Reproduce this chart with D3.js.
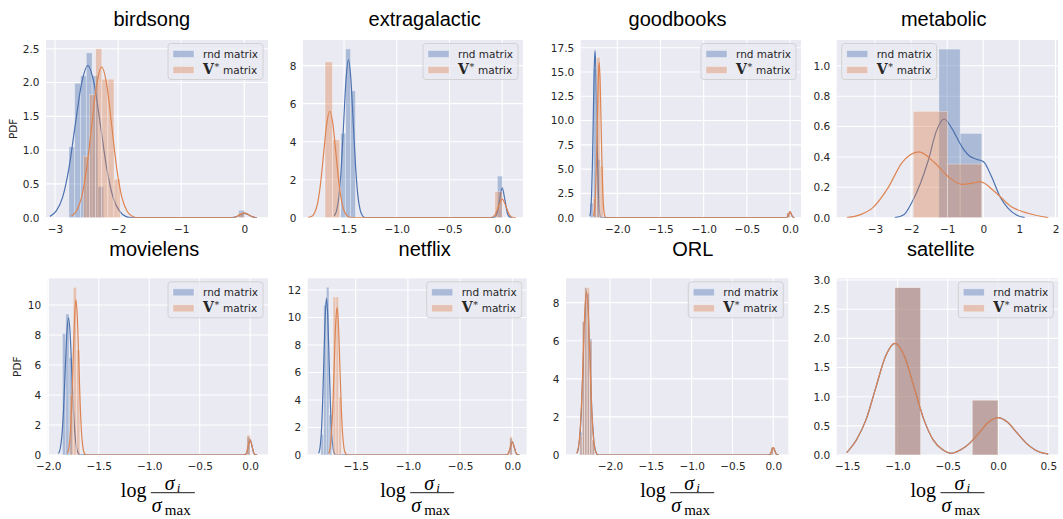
<!DOCTYPE html>
<html>
<head>
<meta charset="utf-8">
<script src="https://cdn.jsdelivr.net/npm/d3@7"></script>
<style>
  body { margin: 0; background: #fff; }
  svg text { font-family: "DejaVu Sans", sans-serif; }
</style>
</head>
<body>
<svg id="chart" width="1063" height="519"></svg>
<script>
// ---- data ----
const datasets = ['birdsong', 'extragalactic', 'goodbooks', 'metabolic', 'movielens', 'netflix', 'ORL', 'satellite'];
const seriesLabels = ['rnd matrix', 'V* matrix'];

const xLimits = [[-3.143, 0.376], [-1.889, 0.197], [-2.424, 0.127], [-4.06, 2.07],
                 [-2.006, 0.177], [-1.96, 0.138], [-2.539, 0.184], [-1.605, 0.6]];
const yLimits = [[0, 2.63], [0, 9.35], [0, 18.29], [0, 1.17], [0, 11.78], [0, 12.85], [0, 9.28], [0, 3.03]];

const xTicks = [[-3, -2, -1, 0], [-1.5, -1, -0.5, 0], [-2, -1.5, -1, -0.5, 0], [-3, -2, -1, 0, 1, 2],
                [-2, -1.5, -1, -0.5, 0], [-1.5, -1, -0.5, 0], [-2, -1.5, -1, -0.5, 0], [-1.5, -1, -0.5, 0, 0.5]];
const yTicks = [[0, 0.5, 1, 1.5, 2, 2.5], [0, 2, 4, 6, 8], [0, 2.5, 5, 7.5, 10, 12.5, 15, 17.5], [0, 0.2, 0.4, 0.6, 0.8, 1.0],
                [0, 2, 4, 6, 8, 10], [0, 2, 4, 6, 8, 10, 12], [0, 2, 4, 6, 8], [0, 0.5, 1, 1.5, 2, 2.5, 3]];
const xFormats = ['d', '.1f', '.1f', 'd', '.1f', '.1f', '.1f', '.1f'];
const yFormats = ['.1f', 'd', '.1f', '.1f', 'd', 'd', 'd', '.1f'];

// histogram bins [x0, x1, density]
const rndHist = [
  [[-2.78, -2.688, 1.05], [-2.688, -2.596, 1.99], [-2.596, -2.504, 2.10], [-2.504, -2.412, 2.44], [-2.412, -2.32, 2.10], [-2.32, -2.228, 0.46], [-0.09, 0.0, 0.11]],
  [[-1.53, -1.484, 4.44], [-1.484, -1.438, 8.88], [-1.438, -1.392, 6.68], [-0.046, 0.0, 2.19]],
  [[-2.317, -2.277, 1.5], [-2.277, -2.237, 15.3], [-2.237, -2.197, 6.0], [-0.04, 0.0, 0.5]],
  [[-1.23, -0.64, 1.11], [-0.64, -0.04, 0.555]],
  [[-1.86, -1.827, 8.1], [-1.827, -1.794, 9.4], [-1.794, -1.761, 6.5], [-0.033, 0.0, 1.2]],
  [[-1.833, -1.807, 1.5], [-1.807, -1.782, 10.9], [-1.782, -1.756, 12.2], [-1.756, -1.73, 2.9], [-0.026, 0.0, 1.2]],
  [[-2.37, -2.34, 1.2], [-2.34, -2.31, 7.0], [-2.31, -2.28, 8.8], [-2.28, -2.25, 8.5], [-2.25, -2.22, 6.1], [-2.22, -2.19, 0.8], [-0.03, 0.0, 0.4]],
  [[-1.026, -0.77, 2.87], [-0.256, 0.0, 0.94]]
];
const vHist = [
  [[-2.55, -2.453, 0.91], [-2.453, -2.356, 1.82], [-2.356, -2.259, 2.50], [-2.259, -2.162, 2.05], [-2.162, -2.065, 2.05], [-2.065, -1.968, 0.57], [-0.097, 0.0, 0.07]],
  [[-1.68, -1.61, 8.2], [-1.61, -1.54, 4.1], [-0.07, 0.0, 1.37]],
  [[-2.28, -2.24, 2.0], [-2.24, -2.20, 16.5], [-2.20, -2.16, 5.3], [-0.04, 0.0, 0.5]],
  [[-1.94, -0.99, 0.70], [-0.99, -0.04, 0.353]],
  [[-1.786, -1.753, 4.0], [-1.753, -1.72, 11.18], [-1.72, -1.687, 7.0], [-0.033, 0.0, 1.33]],
  [[-1.717, -1.69, 11.5], [-1.69, -1.663, 11.5], [-1.663, -1.636, 4.2], [-0.027, 0.0, 1.33]],
  [[-2.37, -2.34, 1.0], [-2.34, -2.31, 7.0], [-2.31, -2.28, 8.8], [-2.28, -2.25, 8.8], [-2.25, -2.22, 6.0], [-2.22, -2.19, 0.8], [-0.03, 0.0, 0.4]],
  [[-1.026, -0.77, 2.87], [-0.256, 0.0, 0.94]]
];

// kde curves [x, density]
const rndKde = [
  [[-3.08, 0.02], [-2.98, 0.1], [-2.88, 0.30], [-2.78, 0.73], [-2.68, 1.37], [-2.58, 1.98], [-2.48, 2.25], [-2.38, 1.98], [-2.28, 1.37], [-2.18, 0.73], [-2.08, 0.30], [-1.98, 0.1], [-1.88, 0.02], [-1.78, 0], [-0.2, 0], [-0.13, 0.012], [-0.065, 0.043], [0, 0.065], [0.065, 0.043], [0.13, 0.012], [0.2, 0]],
  [[-1.593, 0.09], [-1.5705, 0.37], [-1.548, 1.12], [-1.5255, 2.70], [-1.503, 5.04], [-1.4805, 7.32], [-1.458, 8.3], [-1.4355, 7.32], [-1.413, 5.04], [-1.3905, 2.70], [-1.368, 1.12], [-1.3455, 0.37], [-1.323, 0.09], [-1.30, 0], [-0.09, 0], [-0.075, 0.017], [-0.05, 0.21], [-0.025, 0.95], [0, 1.57], [0.025, 0.95], [0.05, 0.21], [0.075, 0.017], [0.09, 0]],
  [[-2.318, 0.19], [-2.308, 0.76], [-2.298, 2.32], [-2.288, 5.59], [-2.278, 10.44], [-2.268, 15.17], [-2.258, 17.2], [-2.248, 15.17], [-2.238, 10.44], [-2.228, 5.59], [-2.218, 2.32], [-2.208, 0.76], [-2.198, 0.19], [-2.188, 0], [-0.05, 0], [-0.03, 0.08], [-0.015, 0.36], [0, 0.6], [0.015, 0.36], [0.03, 0.08], [0.05, 0]],
  [[-2.45, 0], [-2.2, 0.02], [-1.98, 0.1], [-1.75, 0.22], [-1.52, 0.38], [-1.3, 0.57], [-1.08, 0.65], [-0.85, 0.58], [-0.6, 0.47], [-0.4, 0.41], [-0.19, 0.385], [0.0, 0.37], [0.23, 0.27], [0.46, 0.14], [0.69, 0.062], [0.92, 0.018], [1.15, 0]],
  [[-1.899, 0.1], [-1.8825, 0.4], [-1.866, 1.24], [-1.8495, 2.97], [-1.833, 5.55], [-1.8165, 8.07], [-1.80, 9.15], [-1.7835, 8.07], [-1.767, 5.55], [-1.7505, 2.97], [-1.734, 1.24], [-1.7175, 0.4], [-1.701, 0.1], [-1.68, 0], [-0.07, 0], [-0.055, 0.01], [-0.036, 0.13], [-0.018, 0.6], [0, 1.0], [0.018, 0.6], [0.036, 0.13], [0.055, 0.01], [0.07, 0]],
  [[-1.855, 0.13], [-1.8425, 0.5], [-1.83, 1.54], [-1.8175, 3.7], [-1.805, 6.92], [-1.7925, 10.05], [-1.78, 11.4], [-1.7675, 10.05], [-1.755, 6.92], [-1.7425, 3.7], [-1.73, 1.54], [-1.7175, 0.5], [-1.705, 0.13], [-1.685, 0], [-0.07, 0], [-0.055, 0.01], [-0.036, 0.13], [-0.018, 0.58], [0, 0.95], [0.018, 0.58], [0.036, 0.13], [0.055, 0.01], [0.07, 0]],
  [[-2.406, 0.09], [-2.386, 0.37], [-2.366, 1.15], [-2.346, 2.76], [-2.326, 5.16], [-2.306, 7.5], [-2.286, 8.5], [-2.266, 7.5], [-2.246, 5.16], [-2.226, 2.76], [-2.206, 1.15], [-2.186, 0.37], [-2.166, 0.09], [-2.146, 0], [-0.07, 0], [-0.054, 0.004], [-0.036, 0.05], [-0.018, 0.23], [0, 0.38], [0.018, 0.23], [0.036, 0.05], [0.054, 0.004], [0.07, 0]],
  [[-1.506, 0.04], [-1.405, 0.27], [-1.31, 0.62], [-1.215, 1.16], [-1.12, 1.69], [-1.025, 1.915], [-0.93, 1.69], [-0.835, 1.16], [-0.74, 0.62], [-0.645, 0.26], [-0.55, 0.09], [-0.46, 0.03], [-0.37, 0.09], [-0.2775, 0.208], [-0.185, 0.388], [-0.0925, 0.565], [0, 0.64], [0.0925, 0.565], [0.185, 0.388], [0.2775, 0.208], [0.37, 0.087], [0.4625, 0.028], [0.5, 0.017]]
];
const vKde = [
  [[-2.74, 0.025], [-2.66, 0.1], [-2.58, 0.3], [-2.50, 0.72], [-2.42, 1.35], [-2.34, 1.97], [-2.26, 2.23], [-2.18, 1.97], [-2.10, 1.35], [-2.02, 0.72], [-1.94, 0.3], [-1.86, 0.1], [-1.78, 0.025], [-1.70, 0], [-0.2, 0], [-0.13, 0.013], [-0.065, 0.047], [0, 0.07], [0.065, 0.047], [0.13, 0.013], [0.2, 0]],
  [[-1.84, 0.02], [-1.809, 0.06], [-1.78, 0.25], [-1.751, 0.76], [-1.722, 1.82], [-1.693, 3.40], [-1.664, 4.94], [-1.635, 5.6], [-1.606, 4.94], [-1.577, 3.40], [-1.548, 1.82], [-1.519, 0.76], [-1.49, 0.25], [-1.461, 0.06], [-1.43, 0], [-0.13, 0], [-0.105, 0.01], [-0.07, 0.13], [-0.035, 0.6], [0, 0.98], [0.035, 0.6], [0.07, 0.13], [0.105, 0.01], [0.13, 0]],
  [[-2.276, 0.18], [-2.265, 0.7], [-2.254, 2.16], [-2.243, 5.2], [-2.232, 9.71], [-2.221, 14.11], [-2.21, 16.0], [-2.199, 14.11], [-2.188, 9.71], [-2.177, 5.2], [-2.166, 2.16], [-2.155, 0.7], [-2.144, 0.18], [-2.13, 0], [-0.05, 0], [-0.03, 0.08], [-0.015, 0.36], [0, 0.62], [0.015, 0.36], [0.03, 0.08], [0.05, 0]],
  [[-3.78, 0], [-3.4, 0.02], [-3.09, 0.06], [-2.63, 0.2], [-2.26, 0.36], [-1.78, 0.434], [-1.34, 0.36], [-0.97, 0.27], [-0.6, 0.22], [-0.3, 0.228], [-0.09, 0.237], [0.32, 0.171], [0.78, 0.072], [1.24, 0.029], [1.8, 0]],
  [[-1.81, 0.11], [-1.796, 0.46], [-1.782, 1.4], [-1.768, 3.36], [-1.754, 6.28], [-1.74, 9.13], [-1.726, 10.35], [-1.712, 9.13], [-1.698, 6.28], [-1.684, 3.36], [-1.67, 1.4], [-1.656, 0.46], [-1.642, 0.11], [-1.62, 0], [-0.07, 0], [-0.055, 0.01], [-0.036, 0.14], [-0.018, 0.62], [0, 1.02], [0.018, 0.62], [0.036, 0.14], [0.055, 0.01], [0.07, 0]],
  [[-1.76, 0.12], [-1.7465, 0.47], [-1.733, 1.45], [-1.7195, 3.49], [-1.706, 6.52], [-1.6925, 9.47], [-1.679, 10.74], [-1.6655, 9.47], [-1.652, 6.52], [-1.6385, 3.49], [-1.625, 1.45], [-1.6115, 0.47], [-1.598, 0.12], [-1.578, 0], [-0.07, 0], [-0.055, 0.01], [-0.036, 0.14], [-0.018, 0.6], [0, 0.98], [0.018, 0.6], [0.036, 0.14], [0.055, 0.01], [0.07, 0]],
  [[-2.408, 0.09], [-2.388, 0.38], [-2.368, 1.16], [-2.348, 2.79], [-2.328, 5.22], [-2.308, 7.59], [-2.288, 8.6], [-2.268, 7.59], [-2.248, 5.22], [-2.228, 2.79], [-2.208, 1.16], [-2.188, 0.38], [-2.168, 0.09], [-2.148, 0], [-0.07, 0], [-0.054, 0.004], [-0.036, 0.05], [-0.018, 0.24], [0, 0.4], [0.018, 0.24], [0.036, 0.05], [0.054, 0.004], [0.07, 0]],
  [[-1.506, 0.04], [-1.405, 0.27], [-1.31, 0.62], [-1.215, 1.16], [-1.12, 1.69], [-1.025, 1.915], [-0.93, 1.69], [-0.835, 1.16], [-0.74, 0.62], [-0.645, 0.26], [-0.55, 0.09], [-0.46, 0.03], [-0.37, 0.09], [-0.2775, 0.208], [-0.185, 0.388], [-0.0925, 0.565], [0, 0.64], [0.0925, 0.565], [0.185, 0.388], [0.2775, 0.208], [0.37, 0.087], [0.4625, 0.028], [0.5, 0.017]]
];

// ---- layout ----
// plot boxes [left, top, right, bottom]
const plotBoxes = [
  [46, 40, 268, 217.7], [303, 40, 523, 217.7], [580.7, 40, 801, 217.7], [836.7, 40, 1058, 217.7],
  [47.7, 278.3, 268, 455], [307.7, 278.3, 526.7, 455], [566, 278.3, 788.3, 455], [836.7, 278.3, 1058.3, 455]
];
const titleX = [151.8, 424.7, 677.5, 943.7, 154.3, 424.7, 692.7, 940.8];
const legendLeft = [false, false, false, true, false, false, false, false];

const colors = ['#4c72b0', '#dd8452'];
const bgColor = '#eaeaf2';
const textColor = '#262626';

const svg = d3.select('#chart');
svg.append('rect').attr('width', 1063).attr('height', 519).attr('fill', '#fff');

datasets.forEach((name, i) => drawPanel(i));

function drawPanel(i) {
  const [l, t, r, b] = plotBoxes[i];
  const x = d3.scaleLinear().domain(xLimits[i]).range([l, r]);
  const y = d3.scaleLinear().domain(yLimits[i]).range([b, t]);
  const g = svg.append('g').attr('class', 'panel');

  g.append('rect').attr('x', l).attr('y', t).attr('width', r - l).attr('height', b - t).attr('fill', bgColor);

  const clipId = 'clip' + i;
  g.append('clipPath').attr('id', clipId)
    .append('rect').attr('x', l).attr('y', t).attr('width', r - l).attr('height', b - t);

  // grid
  g.append('g').selectAll('line').data(xTicks[i]).join('line')
    .attr('x1', d => x(d)).attr('x2', d => x(d)).attr('y1', t).attr('y2', b)
    .attr('stroke', '#fff').attr('stroke-width', 1.1);
  g.append('g').selectAll('line').data(yTicks[i]).join('line')
    .attr('x1', l).attr('x2', r).attr('y1', d => y(d)).attr('y2', d => y(d))
    .attr('stroke', '#fff').attr('stroke-width', 1.1);

  const plot = g.append('g').attr('clip-path', `url(#${clipId})`);
  const line = d3.line().x(d => x(d[0])).y(d => y(d[1])).curve(d3.curveMonotoneX);

  [[rndHist[i], rndKde[i]], [vHist[i], vKde[i]]].forEach(([hist, kde], s) => {
    plot.append('g').selectAll('rect').data(hist).join('rect')
      .attr('x', d => x(d[0]))
      .attr('y', d => y(d[2]))
      .attr('width', d => Math.max(0.5, x(d[1]) - x(d[0])))
      .attr('height', d => b - y(d[2]))
      .attr('fill', colors[s]).attr('fill-opacity', 0.4)
      .attr('stroke', '#fff').attr('stroke-opacity', 0.4).attr('stroke-width', 0.8);
    plot.append('path').datum(kde)
      .attr('d', line)
      .attr('fill', 'none').attr('stroke', colors[s]).attr('stroke-width', 1.2);
  });

  // axes
  const xAxis = g.append('g').attr('transform', `translate(0,${b})`)
    .call(d3.axisBottom(x).tickValues(xTicks[i]).tickFormat(d3.format(xFormats[i])).tickSize(0).tickPadding(7.5));
  const yAxis = g.append('g').attr('transform', `translate(${l},0)`)
    .call(d3.axisLeft(y).tickValues(yTicks[i]).tickFormat(d3.format(yFormats[i])).tickSize(0).tickPadding(6.5));
  [xAxis, yAxis].forEach(ax => {
    ax.select('.domain').remove();
    ax.selectAll('text').attr('font-size', '10.5px').attr('fill', textColor)
      .style('font-family', '"DejaVu Sans", sans-serif');
  });

  // title
  g.append('text')
    .attr('x', titleX[i]).attr('y', i < 4 ? 26 : 255.5)
    .attr('text-anchor', 'middle')
    .style('font-family', '"Liberation Sans", Arial, sans-serif')
    .attr('font-size', '20px').attr('fill', '#000')
    .text(datasets[i]);

  // y label on the first column
  if (i % 4 === 0) {
    const cy = (t + b) / 2;
    const lx = i === 0 ? 13 : 17;
    g.append('text')
      .attr('transform', `translate(${lx},${cy}) rotate(-90)`)
      .attr('text-anchor', 'middle').attr('dominant-baseline', 'central')
      .attr('font-size', '10.5px').attr('fill', textColor)
      .text('PDF');
  }

  // x label on the bottom row
  if (i >= 4) drawXLabel((l + r) / 2);

  drawLegend(g, legendLeft[i] ? l + 5 : r - 5 - 95, t + 3.5);
}

function drawLegend(g, lx, ly) {
  const lg = g.append('g').attr('transform', `translate(${lx},${ly})`);
  lg.append('rect').attr('width', 95).attr('height', 36).attr('rx', 3)
    .attr('fill', bgColor).attr('fill-opacity', 0.8)
    .attr('stroke', '#cccccc').attr('stroke-width', 0.8);
  [7, 23].forEach((py, s) => {
    lg.append('rect').attr('x', 5).attr('y', py).attr('width', 21).attr('height', 7)
      .attr('fill', colors[s]).attr('fill-opacity', 0.4)
      .attr('stroke', '#fff').attr('stroke-opacity', 0.4).attr('stroke-width', 0.8);
  });
  lg.append('text').attr('x', 35).attr('y', 14)
    .attr('font-size', '10.5px').attr('fill', textColor).text(seriesLabels[0]);
  // "V* matrix" with a bold serif V
  lg.append('text').attr('x', 35).attr('y', 30.5)
    .style('font-family', '"DejaVu Serif", serif').attr('font-weight', 'bold')
    .attr('font-size', '14px').attr('fill', textColor).text('V');
  lg.append('text').attr('x', 46.5).attr('y', 26)
    .style('font-family', '"DejaVu Serif", serif')
    .attr('font-size', '9.5px').attr('fill', textColor).text('*');
  lg.append('text').attr('x', 55).attr('y', 30.5)
    .attr('font-size', '10.5px').attr('fill', textColor).text(seriesLabels[1].split(' ')[1]);
}

function drawXLabel(cx) {
  const gl = svg.append('g').attr('fill', '#000');
  const serif = '"Liberation Serif", "DejaVu Serif", serif';
  gl.append('text').attr('x', cx - 37).attr('y', 497)
    .style('font-family', serif).attr('font-size', '20px').text('log');
  gl.append('line').attr('x1', cx - 7).attr('x2', cx + 37).attr('y1', 492.7).attr('y2', 492.7)
    .attr('stroke', '#000').attr('stroke-width', 0.9);
  gl.append('text').attr('x', cx + 7).attr('y', 489.5)
    .style('font-family', serif).attr('font-style', 'italic').attr('font-size', '20px').text('σ');
  gl.append('text').attr('x', cx + 19).attr('y', 491.5)
    .style('font-family', serif).attr('font-style', 'italic').attr('font-size', '13px').text('i');
  gl.append('text').attr('x', cx - 6).attr('y', 511.5)
    .style('font-family', serif).attr('font-style', 'italic').attr('font-size', '20px').text('σ');
  gl.append('text').attr('x', cx + 7).attr('y', 515)
    .style('font-family', serif).attr('font-size', '15px').text('max');
}
</script>
</body>
</html>
